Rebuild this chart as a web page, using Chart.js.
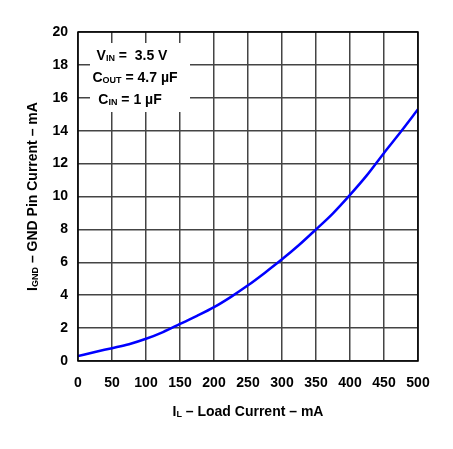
<!DOCTYPE html>
<html>
<head>
<meta charset="utf-8">
<script src="https://cdn.jsdelivr.net/npm/chart.js@4.4.0/dist/chart.umd.min.js"></script>
<style>
  body { margin: 0; background: #fff; }
  #chart { display: block; }
</style>
</head>
<body>
<canvas id="chart" width="453" height="449"></canvas>
<script>
// load current (mA) and GND pin current (mA)
var loadCurrent = [0, 25, 50, 75, 100, 125, 150, 175, 200, 225, 250,
  275, 300, 325, 350, 375, 400, 425, 450, 475, 500];
var gndCurrent = [0.3, 0.55, 0.78, 1.02, 1.35, 1.76, 2.25, 2.74, 3.27, 3.9, 4.6,
  5.37, 6.18, 7.05, 8.0, 8.98, 10.1, 11.3, 12.65, 13.95, 15.3];

var xTicks = [0, 50, 100, 150, 200, 250, 300, 350, 400, 450, 500];
var yTicks = [0, 2, 4, 6, 8, 10, 12, 14, 16, 18, 20];

var FONT = '"Liberation Sans", Arial, Helvetica, sans-serif';

// text with subscript pieces: [[text, isSub], ...]
function richWidth(ctx, parts) {
  var w = 0;
  parts.forEach(function (p) {
    ctx.font = p[1] ? 'bold 9px ' + FONT : 'bold 14px ' + FONT;
    w += ctx.measureText(p[0]).width;
  });
  return w;
}

function drawRich(ctx, parts, cx, cy) {
  var x = cx - richWidth(ctx, parts) / 2;
  ctx.textBaseline = 'middle';
  ctx.textAlign = 'left';
  parts.forEach(function (p) {
    ctx.font = p[1] ? 'bold 9px ' + FONT : 'bold 14px ' + FONT;
    ctx.fillText(p[0], x, p[1] ? cy + 3 : cy);
    x += ctx.measureText(p[0]).width;
  });
}

var decor = {
  id: 'decor',
  beforeDatasetsDraw: function (chart) {
    var ctx = chart.ctx;
    ctx.save();
    // white box behind the conditions
    ctx.fillStyle = '#fff';
    ctx.fillRect(90, 43, 100, 69);
    ctx.fillStyle = '#000';
    drawRich(ctx, [['V', 0], ['IN', 1], [' =  3.5 V', 0]], 132, 56);
    drawRich(ctx, [['C', 0], ['OUT', 1], [' = 4.7 \u00b5F', 0]], 135, 78);
    drawRich(ctx, [['C', 0], ['IN', 1], [' = 1 \u00b5F', 0]], 130, 100);
    ctx.restore();
  },
  afterDraw: function (chart) {
    var ctx = chart.ctx;
    var a = chart.chartArea;
    ctx.save();
    ctx.strokeStyle = '#000';
    ctx.lineWidth = 1.5;
    ctx.strokeRect(a.left, a.top, a.right - a.left, a.bottom - a.top);
    ctx.fillStyle = '#000';
    // axis titles
    drawRich(ctx, [['I', 0], ['L', 1], [' \u2013 Load Current \u2013 mA', 0]],
      (a.left + a.right) / 2, 412);
    ctx.translate(33, (a.top + a.bottom) / 2);
    ctx.rotate(-Math.PI / 2);
    drawRich(ctx, [['I', 0], ['GND', 1], [' \u2013 GND Pin Current \u2013 mA', 0]], 0, 0);
    ctx.restore();
  }
};

var points = loadCurrent.map(function (x, i) {
  return { x: x, y: gndCurrent[i] };
});

var ctx = document.getElementById('chart').getContext('2d');

var myChart = new Chart(ctx, {
  type: 'line',
  data: {
    datasets: [{
      data: points,
      borderColor: '#0000ff',
      borderWidth: 2.5,
      pointRadius: 0,
      tension: 0.4,
      cubicInterpolationMode: 'monotone',
      fill: false
    }]
  },
  options: {
    responsive: false,
    devicePixelRatio: 1,
    animation: false,
    layout: { padding: { top: 32, right: 35, left: 0, bottom: 0 } },
    plugins: { legend: { display: false }, tooltip: { enabled: false } },
    scales: {
      x: {
        type: 'linear',
        min: 0,
        max: 500,
        afterBuildTicks: function (scale) {
          scale.ticks = xTicks.map(function (v) { return { value: v }; });
        },
        afterFit: function (scale) { scale.height = 88; },
        grid: { color: '#444', lineWidth: 1.5, drawTicks: false },
        border: { display: false },
        ticks: {
          color: '#000',
          font: { family: FONT, size: 14, weight: 'bold' },
          padding: 14,
          maxRotation: 0,
          autoSkip: false
        }
      },
      y: {
        min: 0,
        max: 20,
        afterBuildTicks: function (scale) {
          scale.ticks = yTicks.map(function (v) { return { value: v }; });
        },
        afterFit: function (scale) { scale.width = 78; },
        grid: { color: '#444', lineWidth: 1.5, drawTicks: false },
        border: { display: false },
        ticks: {
          color: '#000',
          font: { family: FONT, size: 14, weight: 'bold' },
          padding: 10,
          autoSkip: false
        }
      }
    }
  },
  plugins: [decor]
});
</script>
</body>
</html>
